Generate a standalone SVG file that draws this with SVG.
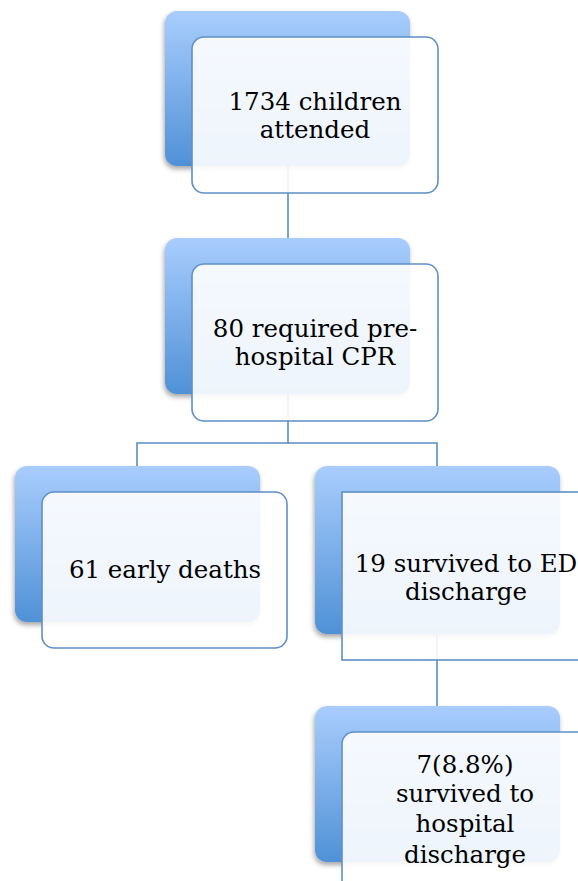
<svg xmlns="http://www.w3.org/2000/svg" width="578" height="881" viewBox="0 0 578 881">
  <style>
    .back { fill: url(#blueFade); filter: url(#shadow); }
    .front { fill: #ffffff; fill-opacity: 0.9; stroke: #5e8fc6; stroke-width: 1.6; }
    .link { fill: none; stroke: #5b8cc3; stroke-width: 1.6; }
    .label { font-family: "DejaVu Serif", "Liberation Serif", serif; font-size: 24.5px; fill: #000000; text-anchor: middle; }
  </style>
  <defs>
    <linearGradient id="blueFade" x1="0" y1="0" x2="0" y2="1">
      <stop offset="0" stop-color="#a9cdfd"/>
      <stop offset="1" stop-color="#4f91d6"/>
    </linearGradient>
    <filter id="shadow" x="-10%" y="-10%" width="120%" height="125%">
      <feDropShadow dx="-1" dy="3" stdDeviation="2.5" flood-color="#000000" flood-opacity="0.35"/>
    </filter>
  </defs>

  <rect width="578" height="881" fill="#ffffff"/>

  <!-- connectors run between the centres of the blue back panels -->
  <g id="connectors">
    <path class="link" d="M288 166 V238"/>
    <path class="link" d="M288 394 V443 H137 V466"/>
    <path class="link" d="M288 443 H437 V466"/>
    <path class="link" d="M437 634 V706"/>
  </g>

  <g id="node-attended">
    <rect class="back" x="165" y="11" width="245" height="155" rx="12"/>
    <rect class="front" x="192" y="37" width="246" height="156" rx="12"/>
    <text class="label" x="315" y="110">1734 children</text>
    <text class="label" x="315" y="138">attended</text>
  </g>

  <g id="node-cpr">
    <rect class="back" x="165" y="238" width="245" height="156" rx="12"/>
    <rect class="front" x="192" y="264" width="246" height="157" rx="12"/>
    <text class="label" x="315" y="337">80 required pre-</text>
    <text class="label" x="315" y="365">hospital CPR</text>
  </g>

  <g id="node-deaths">
    <rect class="back" x="15" y="466" width="245" height="156" rx="12"/>
    <rect class="front" x="42" y="492" width="245" height="156" rx="12"/>
    <text class="label" x="165" y="578">61 early deaths</text>
  </g>

  <g id="node-ed">
    <rect class="back" x="315" y="466" width="245" height="168" rx="12"/>
    <rect class="front" x="342" y="492" width="248" height="168"/>
    <text class="label" x="466" y="572">19 survived to ED</text>
    <text class="label" x="466" y="600">discharge</text>
  </g>

  <g id="node-hospital">
    <rect class="back" x="315" y="706" width="245" height="156" rx="12"/>
    <rect class="front" x="342" y="732" width="248" height="160" rx="12"/>
    <text class="label" x="465" y="773">7(8.8%)</text>
    <text class="label" x="465" y="802">survived to</text>
    <text class="label" x="465" y="832">hospital</text>
    <text class="label" x="465" y="863">discharge</text>
  </g>
</svg>
